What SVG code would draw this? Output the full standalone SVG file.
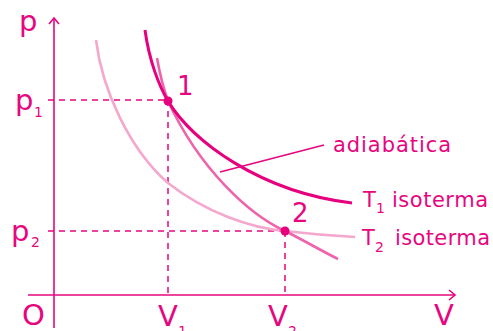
<svg xmlns="http://www.w3.org/2000/svg" width="493" height="331" viewBox="0 0 493 331">
<style>
.ax{stroke:#e6067f;stroke-width:1.6;fill:none}
.ds{stroke:#e6067f;stroke-width:1.5;fill:none;stroke-dasharray:6 5}
.t{font-family:"DejaVu Sans","Noto Sans","Liberation Sans",sans-serif;fill:#e6067f}
.big{font-size:29px}
.mid{font-size:21px}
.num{font-size:26px}
.sub{font-size:14px}
</style>
<rect width="493" height="331" fill="#fff"/>
<g id="connectors">
<line class="ax" x1="54" y1="18" x2="54" y2="328"/>
<polyline class="ax" points="49,24 54,18 59,24"/>
<line class="ax" x1="28" y1="295" x2="455" y2="295"/>
<polyline class="ax" points="449,290 455,295 449,300"/>
<line class="ds" x1="48" y1="100" x2="168" y2="100"/>
<line class="ds" x1="168" y1="100" x2="168" y2="296"/>
<line class="ds" x1="48" y1="231" x2="285" y2="231"/>
<line class="ds" x1="285" y1="231" x2="285" y2="296"/>
<path id="t2" d="M96,40 C102,90 130,150 168,183 C205,212 250,228 285,231 C310,234 335,236 355,237" stroke="#f5a7cd" stroke-width="2.6" fill="none"/>
<path id="adiab" d="M157,58 C160,75 164,90 168,101 C200,170 250,215 285,231 C305,241 320,250 338,259" stroke="#ee63aa" stroke-width="2.6" fill="none"/>
<path id="t1" d="M145,30 C149,60 159,86 168,101 C192,141 260,192 352,203" stroke="#e6007e" stroke-width="3" fill="none"/>
<line x1="220" y1="172" x2="324" y2="145" stroke="#e6067f" stroke-width="1.5"/>
</g>
<g id="point1"><circle cx="168" cy="101" r="4.5" fill="#e6007e"/><text class="t num" x="177" y="95">1</text></g>
<g id="point2"><circle cx="285" cy="231" r="4.5" fill="#e6007e"/><text class="t num" x="292" y="222">2</text></g>
<g id="labels">
<text class="t big" x="19" y="31">p</text>
<text class="t big" x="15" y="110">p</text><text class="t sub" x="34" y="117">1</text>
<text class="t big" x="11" y="241">p</text><text class="t sub" x="31" y="247">2</text>
<text class="t big" x="22" y="325">O</text>
<text class="t big" x="158" y="326">V</text><text class="t sub" x="178" y="336">1</text>
<text class="t big" x="268" y="326">V</text><text class="t sub" x="288" y="336">2</text>
<text class="t big" x="434" y="325">V</text>
<text class="t mid" x="333" y="152" textLength="118">adiabática</text>
<text class="t mid" x="363" y="207">T</text><text class="t sub" x="376" y="213">1</text>
<text class="t mid" x="392" y="207" textLength="96">isoterma</text>
<text class="t mid" x="362" y="245">T</text><text class="t sub" x="375" y="252">2</text>
<text class="t mid" x="395" y="245" textLength="95">isoterma</text>
</g>
</svg>
